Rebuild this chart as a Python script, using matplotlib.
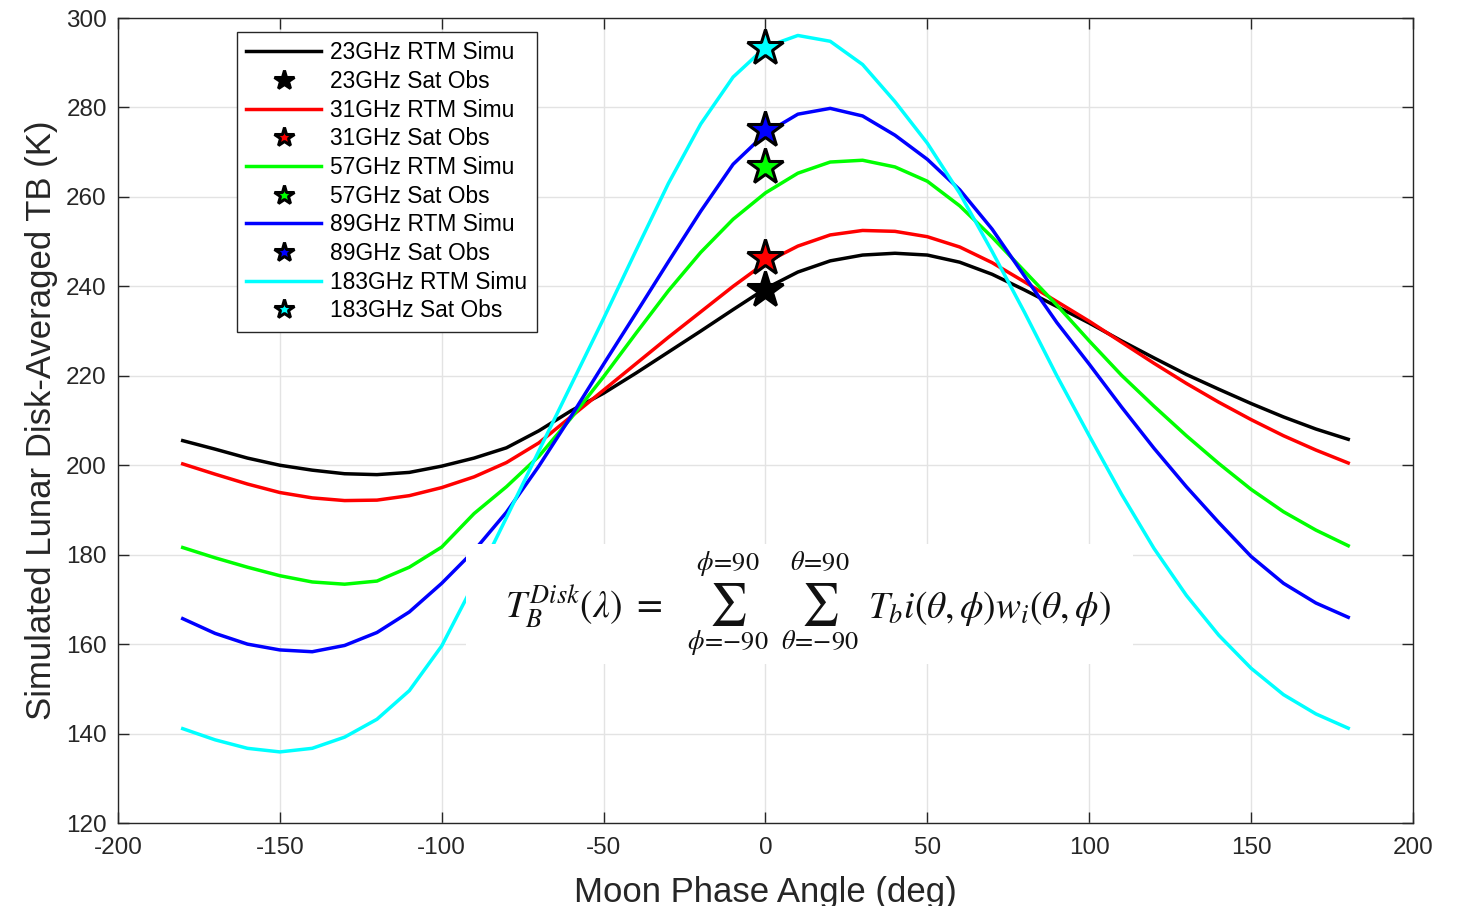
import numpy as np
import matplotlib
matplotlib.use('Agg')
import matplotlib.pyplot as plt
from matplotlib.lines import Line2D
from matplotlib.patches import Rectangle

plt.rcParams['font.family'] = ['Liberation Sans', 'DejaVu Sans']
plt.rcParams['mathtext.fontset'] = 'stix'
plt.rcParams['axes.unicode_minus'] = False

# Moon phase angle (deg)
phase = list(range(-180, 181, 10))

# Simulated disk-averaged TB (K)
tb_23 = [205.5, 203.6, 201.6, 200.0, 198.9, 198.1, 197.9, 198.4, 199.8, 201.6,
         203.9, 207.7, 212.2, 216.1, 220.6, 225.3, 230.0, 234.8, 239.5, 243.2,
         245.7, 247.0, 247.4, 247.0, 245.4, 242.7, 239.2, 235.5, 231.8, 227.8,
         224.0, 220.3, 217.0, 213.8, 210.8, 208.1, 205.8]
tb_31 = [200.3, 198.0, 195.8, 193.9, 192.7, 192.1, 192.2, 193.2, 195.0, 197.4,
         200.6, 205.0, 210.9, 216.8, 222.7, 228.6, 234.3, 240.0, 245.3, 249.0,
         251.5, 252.5, 252.3, 251.1, 248.8, 245.3, 241.0, 236.6, 232.2, 227.5,
         222.8, 218.3, 214.1, 210.2, 206.6, 203.4, 200.5]
tb_57 = [181.6, 179.3, 177.2, 175.3, 173.9, 173.4, 174.1, 177.2, 181.7, 189.2,
         195.2, 202.0, 210.6, 219.8, 229.5, 239.0, 247.6, 255.0, 260.9, 265.3,
         267.8, 268.2, 266.7, 263.5, 258.0, 251.0, 243.4, 235.8, 227.8, 220.1,
         213.2, 206.6, 200.4, 194.6, 189.6, 185.5, 182.0]
tb_89 = [165.7, 162.4, 160.0, 158.7, 158.3, 159.7, 162.6, 167.2, 173.6, 180.9,
         189.5, 199.8, 211.0, 222.6, 234.0, 245.5, 256.8, 267.3, 274.2, 278.5,
         279.8, 278.1, 273.8, 268.4, 261.6, 252.8, 242.3, 231.9, 222.6, 213.0,
         203.8, 195.2, 187.2, 179.6, 173.6, 169.2, 166.0]
tb_183 = [141.1, 138.6, 136.7, 135.9, 136.7, 139.2, 143.2, 149.6, 159.6, 173.6,
          188.3, 203.2, 218.0, 232.8, 248.0, 263.0, 276.3, 286.8, 293.5, 296.1,
          294.8, 289.6, 281.3, 272.0, 260.8, 247.8, 234.2, 220.0, 206.6, 193.5,
          181.4, 170.9, 162.0, 154.6, 148.7, 144.4, 141.2]

# satellite observations at phase 0
obs_phase = 0
obs_tb = [239.2, 246.4, 266.8, 275.0, 293.2]

freqs = ['23GHz', '31GHz', '57GHz', '89GHz', '183GHz']
colors = ['#000000', '#ff0000', '#00ff00', '#0000ff', '#00ffff']
series = [tb_23, tb_31, tb_57, tb_89, tb_183]

fig = plt.figure(figsize=(14.6, 9.06), dpi=100)
ax = fig.add_axes([0.0808, 0.0916, 0.8870, 0.8885])

handles = []
labels = []
for f, c, tb, ob in zip(freqs, colors, series, obs_tb):
    ax.plot(phase, tb, color=c, lw=2.5, zorder=3, solid_joinstyle='round')
    ax.plot([obs_phase], [ob], marker='*', ls='none', ms=27, mfc=c, mec='k',
            mew=2.2, zorder=4)
    handles.append(Line2D([], [], color=c, lw=2.5))
    labels.append(f + ' RTM Simu')
    handles.append(Line2D([], [], marker='*', ls='none', ms=15, mfc=c,
                          mec='k', mew=2.2))
    labels.append(f + ' Sat Obs')

ax.set_xlim(-200, 200)
ax.set_ylim(120, 300)
ax.set_xticks(np.arange(-200, 201, 50))
ax.set_yticks(np.arange(120, 301, 20))
ax.grid(True, color='#e3e3e3', lw=1.0)
ax.set_axisbelow(True)
ax.tick_params(direction='in', length=8, width=1, colors='#262626',
               labelsize=17.5, top=True, right=True)
ax.tick_params(axis='y', pad=8)
ax.tick_params(axis='x', pad=10)
for s in ax.spines.values():
    s.set_color('#262626')
    s.set_linewidth(1.0)

ax.set_xlabel('Moon Phase Angle (deg)', fontsize=25, color='#262626', labelpad=12)
ax.set_ylabel('Simulated Lunar Disk-Averaged TB (K)', fontsize=25,
              color='#262626', labelpad=6)

leg = ax.legend(handles, labels, loc='upper left',
                bbox_to_anchor=(0.0919, 0.9826), borderaxespad=0,
                fontsize=16.4, frameon=True, fancybox=False, framealpha=1,
                edgecolor='#262626', handlelength=3.3, handletextpad=0.4,
                labelspacing=0.25, borderpad=0.4)
leg.get_frame().set_linewidth(1.0)
leg.set_zorder(10)


# white panel with the disk-averaging formula
def px(x, y):
    return (x - 118) / 1295, (823 - y) / 805


ax.add_patch(Rectangle(px(466, 664), 0.515, 0.149, transform=ax.transAxes,
                       facecolor='white', edgecolor='none', zorder=6))
fkw = dict(transform=ax.transAxes, color='#111111', zorder=7)
ax.text(*px(505, 618), r'$T_B^{Disk}(\lambda)\ =$', ha='left', va='baseline',
        fontsize=27, **fkw)
ax.text(*px(868, 618), r'$T_b i(\theta,\phi)w_i(\theta,\phi)$', ha='left',
        va='baseline', fontsize=27, **fkw)
for cx, sym in [(728, r'\phi'), (820, r'\theta')]:
    ax.text(*px(cx, 604), r'$\sum$', ha='center', va='center', fontsize=30, **fkw)
    ax.text(*px(cx, 563), '$' + sym + '\\!=\\!90$', ha='center', va='center',
            fontsize=19, **fkw)
    ax.text(*px(cx, 642), '$' + sym + '\\!=\\!{-}90$', ha='center', va='center',
            fontsize=19, **fkw)

fig.savefig('out.png', dpi=100)
